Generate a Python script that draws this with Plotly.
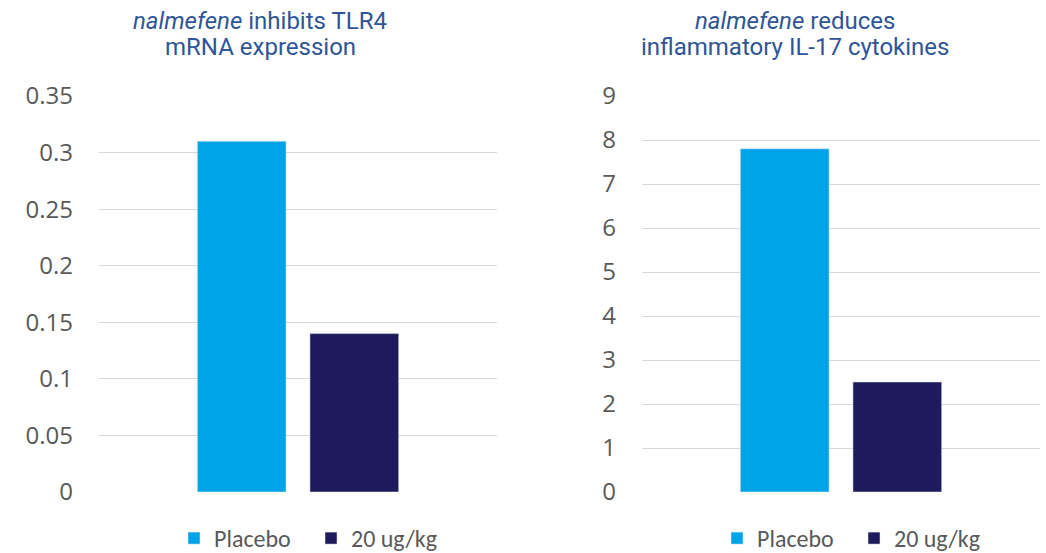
import plotly.graph_objects as go

series = ["Placebo", "20 ug/kg"]
colors = ["#00A3E8", "#1F1A5B"]
tlr4_values = [0.31, 0.14]
il17_values = [7.8, 2.5]
title_left = ["<i>nalmefene</i> inhibits TLR4", "mRNA expression"]
title_right = ["<i>nalmefene</i> reduces", "inflammatory IL-17 cytokines"]

fig = go.Figure()
for i, name in enumerate(series):
    fig.add_trace(go.Bar(x=[""], y=[tlr4_values[i]], name=name, marker_color=colors[i],
                         xaxis="x", yaxis="y", legend="legend"))
for i, name in enumerate(series):
    fig.add_trace(go.Bar(x=[""], y=[il17_values[i]], name=name, marker_color=colors[i],
                         xaxis="x2", yaxis="y2", legend="legend2"))

W, H = 1046, 553


def py(p):
    # pixel row -> paper fraction (margins are zero)
    return (H - p) / H


ydom = [py(492), py(96)]
tickfont = dict(family="Open Sans, Arial", size=24, color="#595959")
yax_common = dict(showgrid=True, gridcolor="#D9D9D9", gridwidth=1, zeroline=False,
                  showline=False, tickfont=tickfont, ticks="", ticklabelstandoff=25,
                  domain=ydom, automargin=False)
xax_common = dict(showticklabels=False, showgrid=False, zeroline=False, showline=False,
                  automargin=False)

legfont = dict(family="Carlito, Lato, Arial", size=24, color="#595959")
title_font = dict(family="Roboto, Arial", size=24, color="#2F5597")

annotations = []
for lines, cx in ((title_left, 260), (title_right, 795)):
    for txt, cy in zip(lines, (21, 47)):
        annotations.append(dict(text=txt, x=cx / W, y=py(cy), xref="paper", yref="paper",
                                xanchor="center", yanchor="middle", showarrow=False,
                                font=title_font))

legend_common = dict(orientation="h", y=py(516), xanchor="left", yanchor="top",
                     font=legfont, itemwidth=30, entrywidth=92, entrywidthmode="pixels",
                     bgcolor="rgba(0,0,0,0)")

fig.update_layout(
    width=W, height=H,
    margin=dict(l=0, r=0, t=0, b=0, autoexpand=False),
    paper_bgcolor="white", plot_bgcolor="white",
    barmode="group", bargap=0.434, bargroupgap=0.212,
    xaxis=dict(domain=[99 / W, 497 / W], anchor="y", **xax_common),
    xaxis2=dict(domain=[642 / W, 1040 / W], anchor="y2", **xax_common),
    yaxis=dict(range=[0, 0.35], dtick=0.05, anchor="x", **yax_common),
    yaxis2=dict(range=[0, 9], dtick=1, anchor="x2", **yax_common),
    legend=dict(x=174 / W, **legend_common),
    legend2=dict(x=717 / W, **legend_common),
    annotations=annotations,
)

fig.write_html("out.html")
